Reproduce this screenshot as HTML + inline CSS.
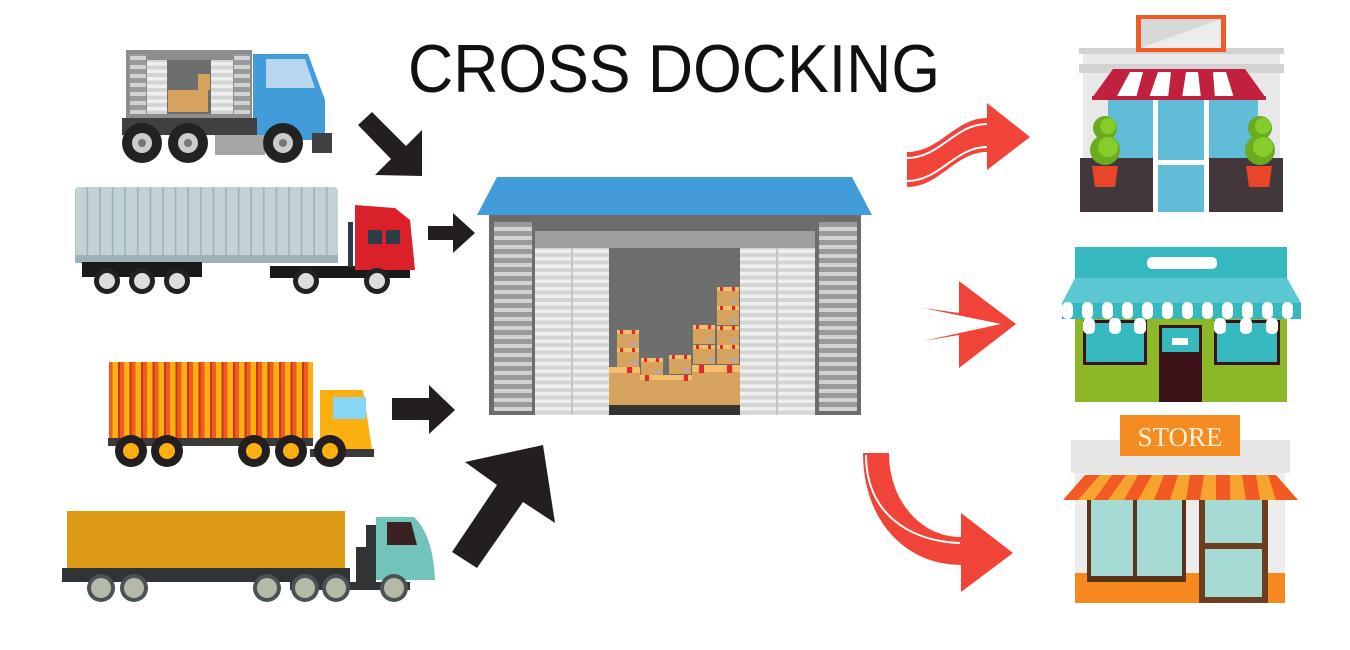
<!DOCTYPE html>
<html><head><meta charset="utf-8"><style>html,body{margin:0;padding:0;background:#fff}svg{display:block}</style></head><body>
<svg width="1350" height="650" viewBox="0 0 1350 650" xmlns="http://www.w3.org/2000/svg">
<defs>
<pattern id="slat" width="10" height="9" patternUnits="userSpaceOnUse"><rect width="10" height="9" fill="#9a9a9a"/><rect x="0" y="2" width="10" height="4" fill="#d2d2d2"/></pattern>
<pattern id="slat2" width="10" height="7.5" patternUnits="userSpaceOnUse"><rect width="10" height="7.5" fill="#d4d4d4"/><rect x="0" y="2" width="10" height="3.5" fill="#efefef"/></pattern>
<pattern id="ostripe" width="11.5" height="10" patternUnits="userSpaceOnUse"><rect width="11.5" height="10" fill="#fbb00f"/><rect x="3" width="6" height="10" fill="#f15a22"/><rect x="3" width="2" height="10" fill="#c5391a"/></pattern>
<pattern id="gstripe" width="12.6" height="10" patternUnits="userSpaceOnUse"><rect width="12.6" height="10" fill="#c3d3d5"/><rect x="11" width="1.6" height="10" fill="#9fb2b5"/></pattern>
<g id="box"><rect width="22" height="19" fill="#d6a35e"/><rect width="22" height="4" fill="#f6bd6c"/><rect x="3" width="3" height="4" fill="#e8262b"/><rect x="15" width="3" height="4" fill="#e8262b"/><rect x="14" y="13" width="6" height="3" fill="#aab"/></g>
</defs>

<text x="408" y="92" font-family="Liberation Sans, sans-serif" font-size="68" fill="#111" textLength="532" lengthAdjust="spacingAndGlyphs">CROSS DOCKING</text>

<!-- Warehouse -->
<polygon points="497,177 852,177 872,215 477,215" fill="#439cda"/>
<rect x="489" y="215" width="372" height="200" fill="#6d6c6c"/>
<rect x="494" y="222" width="38" height="189" fill="url(#slat)"/>
<rect x="819" y="222" width="38" height="189" fill="url(#slat)"/>
<rect x="535" y="231" width="280" height="17" fill="#a09f9f"/>
<rect x="609" y="248" width="131" height="167" fill="#6e6e6e"/>
<use href="#box" x="617" y="330"/><use href="#box" x="617" y="348"/>
<use href="#box" x="641" y="358"/><use href="#box" x="669" y="355"/>
<use href="#box" x="693" y="325"/><use href="#box" x="693" y="345"/>
<use href="#box" x="717" y="287"/><use href="#box" x="717" y="306"/><use href="#box" x="717" y="326"/><use href="#box" x="717" y="345"/>
<rect x="609" y="367" width="31" height="38" fill="#d6a35e"/><rect x="609" y="367" width="31" height="6" fill="#f6bd6c"/><rect x="627" y="367" width="5" height="6" fill="#e8262b"/>
<rect x="640" y="375" width="52" height="30" fill="#d6a35e"/><rect x="640" y="375" width="52" height="5" fill="#f6bd6c"/><rect x="645" y="375" width="4" height="6" fill="#e8262b"/><rect x="684" y="375" width="4" height="6" fill="#e8262b"/>
<rect x="692" y="365" width="48" height="40" fill="#d6a35e"/><rect x="692" y="365" width="48" height="7" fill="#f6bd6c"/><rect x="699" y="365" width="5" height="8" fill="#e8262b"/><rect x="727" y="365" width="5" height="8" fill="#e8262b"/>
<rect x="609" y="405" width="131" height="10" fill="#333"/>
<rect x="535" y="248" width="74" height="167" fill="url(#slat2)"/><line x1="572" y1="248" x2="572" y2="415" stroke="#c4c4c4" stroke-width="2"/>
<rect x="740" y="248" width="75" height="167" fill="url(#slat2)"/><line x1="777" y1="248" x2="777" y2="415" stroke="#c4c4c4" stroke-width="2"/>

<!-- Truck 1 blue -->
<rect x="126" y="50" width="126" height="68" fill="#8d8d8d"/>
<rect x="130" y="54" width="16" height="60" fill="url(#slat)"/><rect x="234" y="54" width="16" height="60" fill="url(#slat)"/>
<rect x="147" y="60" width="20" height="54" fill="url(#slat2)"/><rect x="211" y="60" width="22" height="54" fill="url(#slat2)"/>
<rect x="167" y="60" width="44" height="54" fill="#6e6e6e"/>
<rect x="168" y="90" width="40" height="22" fill="#d6a35e"/><rect x="198" y="74" width="12" height="16" fill="#d6a35e"/>
<path d="M253,54 L308,54 L325,100 L325,140 L253,140 Z" fill="#439cda"/>
<path d="M266,59 L305,59 L315,88 L266,88 Z" fill="#b9d6f0"/>
<rect x="122" y="118" width="135" height="17" fill="#404041"/>
<rect x="215" y="135" width="50" height="20" fill="#a6a6a6"/>
<rect x="312" y="133" width="20" height="20" fill="#404041"/>
<g fill="#222"><circle cx="142" cy="143" r="20"/><circle cx="188" cy="143" r="20"/><circle cx="283" cy="143" r="20"/></g>
<g fill="#ccc"><circle cx="142" cy="143" r="10"/><circle cx="188" cy="143" r="10"/><circle cx="283" cy="143" r="10"/></g>
<g fill="#777"><circle cx="142" cy="143" r="4"/><circle cx="188" cy="143" r="4"/><circle cx="283" cy="143" r="4"/></g>

<!-- Truck 2 red -->
<rect x="75" y="187" width="263" height="75" rx="4" fill="url(#gstripe)"/>
<rect x="75" y="255" width="263" height="8" fill="#9fb2b5"/>
<rect x="82" y="262" width="120" height="15" fill="#1a1a1a"/>
<rect x="270" y="266" width="140" height="12" fill="#1a1a1a"/>
<rect x="348" y="222" width="5" height="45" fill="#2c3d47"/>
<path d="M355,205 L395,208 L410,220 L415,270 L355,270 Z" fill="#da2129"/>
<rect x="368" y="230" width="14" height="14" fill="#2c3d47"/><rect x="386" y="230" width="14" height="14" fill="#2c3d47"/>
<g fill="#222"><circle cx="107" cy="281" r="13"/><circle cx="142" cy="281" r="13"/><circle cx="177" cy="281" r="13"/><circle cx="306" cy="281" r="13"/><circle cx="377" cy="281" r="13"/></g>
<g fill="#ddd"><circle cx="107" cy="281" r="8"/><circle cx="142" cy="281" r="8"/><circle cx="177" cy="281" r="8"/><circle cx="306" cy="281" r="8"/><circle cx="377" cy="281" r="8"/></g>

<!-- Truck 3 orange -->
<rect x="109" y="362" width="204" height="76" fill="url(#ostripe)"/>
<rect x="108" y="438" width="205" height="8" fill="#3a3a3a"/>
<path d="M320,390 L363,390 L372,449 L320,449 Z" fill="#fbb00f"/>
<rect x="333" y="397" width="33" height="22" fill="#87d6f4"/>
<rect x="310" y="449" width="64" height="8" fill="#3a3a3a"/>
<g fill="#231f20"><circle cx="131" cy="451" r="16"/><circle cx="167" cy="451" r="16"/><circle cx="254" cy="451" r="16"/><circle cx="291" cy="451" r="16"/><circle cx="330" cy="451" r="16"/></g>
<g fill="#fbb00f"><circle cx="131" cy="451" r="8"/><circle cx="167" cy="451" r="8"/><circle cx="254" cy="451" r="8"/><circle cx="291" cy="451" r="8"/><circle cx="330" cy="451" r="8"/></g>

<!-- Truck 4 -->
<rect x="67" y="511" width="278" height="61" fill="#dc9a15"/>
<rect x="62" y="568" width="288" height="14" fill="#303436"/>
<path d="M356,547 L366,547 L366,525 L376,525 L376,585 L356,585 Z" fill="#303436"/>
<path d="M376,517 L414,517 Q433,535 435,580 L376,580 Z" fill="#72c3ba"/>
<path d="M387,522 L411,522 L417,545 L387,545 Z" fill="#3b2123"/>
<rect x="290" y="582" width="120" height="8" fill="#303436"/>
<g fill="#4a5254"><circle cx="101" cy="588" r="14"/><circle cx="134" cy="588" r="14"/><circle cx="267" cy="588" r="14"/><circle cx="305" cy="588" r="14"/><circle cx="336" cy="588" r="14"/><circle cx="394" cy="588" r="14"/></g>
<g fill="#b5b9a8"><circle cx="101" cy="588" r="10"/><circle cx="134" cy="588" r="10"/><circle cx="267" cy="588" r="10"/><circle cx="305" cy="588" r="10"/><circle cx="336" cy="588" r="10"/><circle cx="394" cy="588" r="10"/></g>

<!-- Black arrows -->
<g fill="#231f20">
<polygon points="358,125 372,112 406,146 422,130 422,176 375,175 391,159"/>
<polygon points="428,226 453,226 453,213 475,233 453,253 453,240 428,240"/>
<polygon points="392,398 429,398 429,385 455,410 429,434 429,420 392,420"/>
<polygon points="452,552 477,568 523,502 555,523 543,445 465,462 497,485"/>
</g>

<!-- Red arrows -->
<g fill="#f04438">
<path d="M907,152 C940,152 955,118 987,118 L987,103 L1030,137 L987,170 L987,152 C955,152 940,187 907,187 Z"/>
<polygon points="923,308 959,313 959,281 1016,324 959,368 959,335 923,341 1001,324"/>
<path d="M863,453 L889,453 C889,500 920,537 961,537 L961,513 L1013,553 L961,592 L961,565 C905,565 863,520 863,453 Z"/>
</g>
<g fill="none" stroke="#fff" stroke-width="2">
<path d="M907,158 C940,158 955,124 987,124"/>
<path d="M907,181 C940,181 955,147 987,147"/>
<path d="M866,455 C866,510 905,541 960,543"/>
</g>

<!-- Store 1 -->
<rect x="1083" y="48" width="197" height="164" fill="#e8e8e8"/>
<rect x="1079" y="48" width="205" height="6" fill="#d2d2d2"/><rect x="1079" y="64" width="205" height="9" fill="#d2d2d2"/>
<rect x="1136" y="15" width="90" height="37" fill="#f15a24"/><rect x="1141" y="19" width="80" height="29" fill="#d8d8d8"/>
<polygon points="1141,48 1221,19 1221,48" fill="#ececec"/>
<rect x="1108" y="100" width="150" height="112" fill="#61bcd8"/>
<rect x="1153" y="100" width="5" height="112" fill="#fff"/><rect x="1204" y="100" width="5" height="112" fill="#fff"/><rect x="1155" y="160" width="52" height="5" fill="#fff"/>
<polygon points="1113,69 1245,69 1266,98 1092,98" fill="#c1213f"/>
<g fill="#fff"><polygon points="1130,72 1143,72 1136,98 1116,98"/><polygon points="1158,72 1171,72 1168,98 1149,98"/><polygon points="1186,72 1198,72 1201,98 1182,98"/><polygon points="1213,72 1226,72 1234,98 1215,98"/></g>
<rect x="1092" y="96" width="174" height="4" fill="#c1213f"/>
<rect x="1080" y="158" width="73" height="54" fill="#42373a"/><rect x="1209" y="158" width="74" height="54" fill="#42373a"/>
<g fill="#6aab1f"><circle cx="1105" cy="150" r="15"/><circle cx="1105" cy="128" r="12"/><circle cx="1260" cy="150" r="15"/><circle cx="1260" cy="128" r="12"/></g>
<g fill="#86cc2a"><circle cx="1108" cy="147" r="10"/><circle cx="1108" cy="126" r="8"/><circle cx="1263" cy="147" r="10"/><circle cx="1263" cy="126" r="8"/></g>
<polygon points="1092,166 1118,166 1115,187 1095,187" fill="#e8452a"/><polygon points="1246,166 1272,166 1269,187 1249,187" fill="#e8452a"/>

<!-- Store 2 -->
<rect x="1075" y="247" width="212" height="155" fill="#8cb828"/>
<rect x="1075" y="247" width="212" height="31" fill="#35b8be"/>
<rect x="1147" y="257" width="70" height="12" rx="5" fill="#fff"/>
<polygon points="1075,278 1287,278 1301,303 1062,303" fill="#5bc8d3"/>
<rect x="1062" y="303" width="239" height="16" fill="#35b8be"/>
<g fill="#fff"><rect x="1062" y="302" width="11" height="17" rx="5"/><rect x="1082" y="302" width="11" height="17" rx="5"/><rect x="1102" y="302" width="11" height="17" rx="5"/><rect x="1122" y="302" width="11" height="17" rx="5"/><rect x="1142" y="302" width="11" height="17" rx="5"/><rect x="1162" y="302" width="11" height="17" rx="5"/><rect x="1182" y="302" width="11" height="17" rx="5"/><rect x="1202" y="302" width="11" height="17" rx="5"/><rect x="1222" y="302" width="11" height="17" rx="5"/><rect x="1242" y="302" width="11" height="17" rx="5"/><rect x="1262" y="302" width="11" height="17" rx="5"/><rect x="1282" y="302" width="11" height="17" rx="5"/></g>
<rect x="1083" y="320" width="64" height="45" fill="#3b1316"/><rect x="1086" y="323" width="58" height="39" fill="#35b8be"/>
<rect x="1214" y="320" width="66" height="45" fill="#3b1316"/><rect x="1217" y="323" width="60" height="39" fill="#35b8be"/>
<g fill="#fff"><rect x="1083" y="318" width="12" height="16" rx="5"/><rect x="1109" y="318" width="12" height="16" rx="5"/><rect x="1134" y="318" width="12" height="16" rx="5"/><rect x="1214" y="318" width="12" height="16" rx="5"/><rect x="1240" y="318" width="12" height="16" rx="5"/><rect x="1266" y="318" width="12" height="16" rx="5"/></g>
<rect x="1159" y="325" width="43" height="77" fill="#3b1316"/><rect x="1162" y="328" width="37" height="24" fill="#35b8be"/><rect x="1172" y="338" width="16" height="7" fill="#fff"/>

<!-- Store 3 -->
<rect x="1071" y="440" width="219" height="33" fill="#e6e6e6"/>
<rect x="1075" y="473" width="210" height="130" fill="#ececec"/>
<rect x="1075" y="573" width="210" height="30" fill="#f5891f"/>
<rect x="1120" y="415" width="120" height="41" fill="#f58b23"/>
<text x="1180" y="446" text-anchor="middle" font-family="Liberation Serif, serif" font-size="27" fill="#fbf3d6">STORE</text>
<polygon points="1085,475 1276,475 1298,500 1063,500" fill="#f15a22"/>
<g fill="#f8a230"><polygon points="1100,475 1112,475 1094,500 1078,500"/><polygon points="1126,475 1138,475 1124,500 1108,500"/><polygon points="1152,475 1164,475 1154,500 1138,500"/><polygon points="1178,475 1190,475 1186,500 1170,500"/><polygon points="1204,475 1216,475 1216,500 1200,500"/><polygon points="1230,475 1242,475 1246,500 1230,500"/><polygon points="1256,475 1268,475 1276,500 1260,500"/></g>
<rect x="1087" y="500" width="99" height="82" fill="#5a3319"/><rect x="1091" y="500" width="91" height="76" fill="#a6dad4"/><rect x="1133" y="500" width="4" height="76" fill="#5a3319"/>
<rect x="1199" y="500" width="69" height="103" fill="#6b3f20"/><rect x="1205" y="500" width="57" height="97" fill="#a6dad4"/><rect x="1205" y="543" width="57" height="6" fill="#6b3f20"/>
</svg>
</body></html>
